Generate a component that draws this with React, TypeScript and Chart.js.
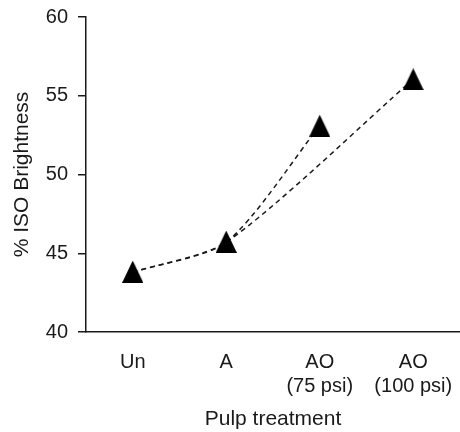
import React, { useEffect, useRef } from "react";
import { Chart, registerables } from "chart.js";

Chart.register(...registerables);

const categories: string[][] = [["Un"], ["A"], ["AO", "(75 psi)"], ["AO", "(100 psi)"]];
const seriesA: (number | null)[] = [43.8, 45.7, 53.1, null];
const seriesB: (number | null)[] = [43.8, 45.7, null, 56.05];
const yTicks = { min: 40, max: 60, step: 5 };
const xTitle = "Pulp treatment";
const yTitle = "% ISO Brightness";

const INK = "#1a1a1a";

function makeTriangle(): HTMLCanvasElement {
  const c = document.createElement("canvas");
  const w = 21;
  const h = 22;
  c.width = w;
  c.height = h;
  const ctx = c.getContext("2d")!;
  ctx.fillStyle = "#000";
  ctx.beginPath();
  ctx.moveTo(w / 2, 0);
  ctx.lineTo(w, h);
  ctx.lineTo(0, h);
  ctx.closePath();
  ctx.fill();
  return c;
}

export default function App() {
  const ref = useRef<HTMLCanvasElement | null>(null);
  useEffect(() => {
    if (!ref.current) return;
    Chart.defaults.font.family = "'Liberation Sans', Arial, sans-serif";
    const tri = makeTriangle();
    const ds = (data: (number | null)[]) => ({
      data,
      borderColor: INK,
      borderWidth: 1.5,
      borderDash: [5, 4],
      backgroundColor: "#000",
      pointBackgroundColor: "#000",
      pointBorderColor: "#000",
      pointStyle: tri as any,
      pointRadius: 11,
      pointBorderWidth: 0,
      tension: 0.25,
      spanGaps: true,
      fill: false,
      clip: false as const,
    });
    const chart = new Chart(ref.current, {
      type: "line",
      data: {
        labels: categories,
        datasets: [ds(seriesA), ds(seriesB)],
      },
      options: {
        animation: false,
        responsive: true,
        maintainAspectRatio: false,
        layout: { autoPadding: false, padding: { top: 17, right: 0, left: 0, bottom: 0 } },
        plugins: { legend: { display: false }, tooltip: { enabled: false } },
        scales: {
          x: {
            type: "category",
            offset: true,
            grid: { display: true, drawOnChartArea: false, drawTicks: true, tickLength: 18, tickColor: "rgba(0,0,0,0)", color: INK },
            border: { display: true, color: INK, width: 1.5 },
            ticks: { color: INK, font: { size: 20 }, padding: 0, maxRotation: 0, autoSkip: false },
            title: { display: true, text: xTitle, color: INK, font: { size: 21 }, padding: { top: 0, bottom: 0 } },
            afterFit: (s: any) => { s.height = 100; s.paddingLeft = 0; s.paddingRight = 0; },
          },
          y: {
            min: yTicks.min,
            max: yTicks.max,
            grid: { display: true, drawOnChartArea: false, drawTicks: true, tickLength: 8, color: INK, lineWidth: 1.5 },
            border: { display: true, color: INK, width: 1.5 },
            ticks: { stepSize: yTicks.step, color: INK, font: { size: 20 }, padding: 10 },
            title: { display: true, text: yTitle, color: INK, font: { size: 21 }, padding: { top: 10, bottom: 0 } },
            afterFit: (s: any) => { s.width = 86; s.paddingTop = 0; s.paddingBottom = 0; },
          },
        },
      },
    });
    return () => chart.destroy();
  }, []);
  return (
    <div style={{ position: "absolute", left: 0, top: 0, width: 460, height: 432, background: "#fff" }}>
      <canvas ref={ref} />
    </div>
  );
}
